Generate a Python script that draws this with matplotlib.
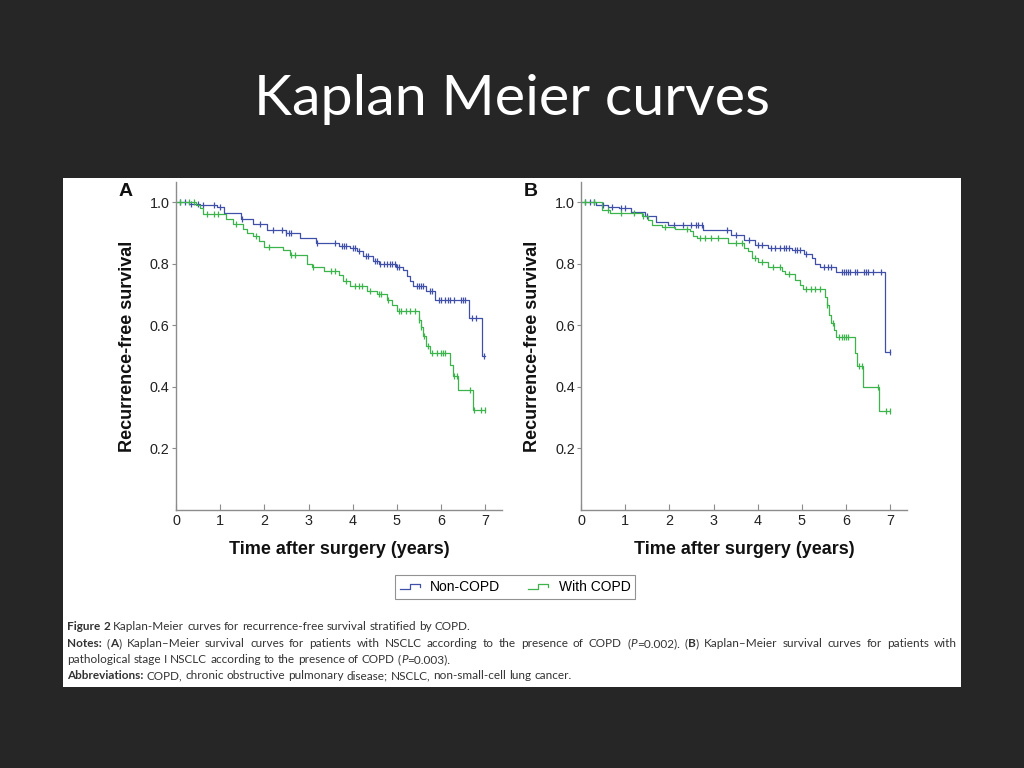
import numpy as np
import matplotlib
matplotlib.use('Agg')
import matplotlib.pyplot as plt
from matplotlib.lines import Line2D
from matplotlib.patches import Rectangle
from matplotlib.legend_handler import HandlerBase

# ---- data (step times in years, survival after each step) ----
a_non_times = [0.30, 0.55, 0.92, 1.09, 1.48, 1.75, 2.05, 2.50, 2.80, 3.18, 3.70, 3.94, 4.10, 4.24,
               4.46, 4.60, 4.99, 5.14, 5.22, 5.29, 5.37, 5.66, 5.86, 6.64, 6.92]
a_non_surv = [0.995, 0.99, 0.984, 0.965, 0.945, 0.93, 0.91, 0.898, 0.882, 0.868, 0.858, 0.85, 0.84,
              0.825, 0.81, 0.80, 0.79, 0.78, 0.76, 0.742, 0.726, 0.71, 0.683, 0.623, 0.50]
a_non_cens = [0.1, 0.2, 0.35, 0.5, 0.6, 0.85, 1.0, 1.5, 1.9, 2.2, 2.4, 2.5, 2.55, 2.6, 3.2, 3.6,
              3.75, 3.8, 3.85, 4.0, 4.05, 4.15, 4.3, 4.35, 4.5, 4.55, 4.62, 4.7, 4.78, 4.85, 4.9,
              4.95, 5.0, 5.05, 5.45, 5.5, 5.55, 5.6, 5.75, 5.8, 5.95, 6.0, 6.1, 6.15, 6.2, 6.3,
              6.45, 6.5, 6.55, 6.7, 6.8, 6.98]

a_copd_times = [0.45, 0.55, 0.62, 1.14, 1.30, 1.52, 1.60, 1.75, 1.87, 2.00, 2.43, 2.58, 2.96, 3.07,
                3.34, 3.70, 3.78, 3.94, 4.32, 4.55, 4.77, 4.88, 5.00, 5.49, 5.54, 5.60, 5.67, 5.74,
                6.20, 6.27, 6.38, 6.72]
a_copd_surv = [0.99, 0.98, 0.96, 0.946, 0.93, 0.914, 0.90, 0.89, 0.875, 0.855, 0.844, 0.828, 0.80,
               0.79, 0.776, 0.763, 0.745, 0.727, 0.71, 0.70, 0.683, 0.665, 0.645, 0.617, 0.595,
               0.565, 0.532, 0.51, 0.47, 0.435, 0.39, 0.325]
a_copd_cens = [0.1, 0.3, 0.4, 0.7, 0.85, 0.95, 1.35, 1.8, 2.1, 2.6, 2.7, 3.1, 3.5, 3.6, 3.85, 4.05,
               4.15, 4.2, 4.4, 4.6, 4.65, 4.8, 5.05, 5.1, 5.2, 5.3, 5.4, 5.5, 5.55, 5.62, 5.7, 5.8,
               5.9, 6.0, 6.05, 6.1, 6.3, 6.35, 6.65, 6.75, 6.9, 7.0]

b_non_times = [0.35, 0.60, 0.85, 1.14, 1.44, 1.70, 1.98, 2.77, 3.40, 3.70, 3.94, 4.24, 4.77, 5.05,
               5.22, 5.30, 5.41, 5.78, 6.89]
b_non_surv = [0.99, 0.985, 0.98, 0.968, 0.954, 0.935, 0.925, 0.909, 0.892, 0.876, 0.862, 0.851,
              0.844, 0.83, 0.817, 0.80, 0.79, 0.772, 0.512]
b_non_cens = [0.1, 0.2, 0.3, 0.5, 0.7, 0.9, 1.0, 1.5, 2.1, 2.3, 2.5, 2.6, 2.65, 2.75, 3.3, 3.5, 3.8,
              4.0, 4.1, 4.3, 4.4, 4.5, 4.6, 4.65, 4.7, 4.85, 4.9, 4.95, 5.1, 5.5, 5.6, 5.65, 5.9,
              5.95, 6.0, 6.05, 6.1, 6.2, 6.25, 6.4, 6.45, 6.5, 6.6, 6.8, 7.0]

b_copd_times = [0.47, 0.65, 1.37, 1.52, 1.60, 1.83, 2.13, 2.47, 2.54, 2.62, 3.33, 3.70, 3.78, 3.86,
                4.01, 4.24, 4.54, 4.61, 4.84, 4.95, 5.03, 5.52, 5.56, 5.61, 5.67, 5.73, 5.78, 6.20,
                6.24, 6.39, 6.74]
b_copd_surv = [0.975, 0.965, 0.955, 0.94, 0.925, 0.92, 0.914, 0.905, 0.89, 0.882, 0.868, 0.85, 0.84,
               0.819, 0.806, 0.79, 0.776, 0.765, 0.747, 0.73, 0.718, 0.693, 0.666, 0.634, 0.607,
               0.586, 0.561, 0.511, 0.468, 0.40, 0.321]
b_copd_cens = [0.1, 0.3, 0.6, 0.9, 1.2, 1.4, 1.9, 2.4, 2.7, 2.8, 2.95, 3.1, 3.5, 3.65, 3.95, 4.1,
               4.35, 4.5, 4.7, 5.1, 5.2, 5.3, 5.4, 5.58, 5.7, 5.85, 5.9, 5.95, 6.0, 6.05, 6.3, 6.35,
               6.72, 6.9, 7.0]

end_time = 7.0
yticks = [0.2, 0.4, 0.6, 0.8, 1.0]
xticks = [0, 1, 2, 3, 4, 5, 6, 7]
group_names = ['Non-COPD', 'With COPD']

BLUE = '#4050a8'
GREEN = '#3cb44c'
BG = '#262626'
AXC = '#8c8c8c'


def km_steps(times, surv):
    t = np.concatenate([[0.0], times, [end_time]])
    s = np.concatenate([[1.0], surv, [surv[-1]]])
    return t, s


def draw_km(ax, times, surv, cens, color):
    t, s = km_steps(times, surv)
    ax.step(t, s, where='post', color=color, lw=0.9)
    # censor marks sit on the curve
    idx = np.searchsorted(times, cens, side='right')
    cs = np.concatenate([[1.0], surv])[idx]
    ax.plot(cens, cs, ls='none', marker='|', ms=5, mew=0.9, color=color)


class StepHandler(HandlerBase):
    def create_artists(self, legend, orig, xd, yd, w, h, fs, trans):
        xs = np.array([0, 0.45, 0.45, 0.9, 0.9]) * w - xd
        ys = np.array([0.25, 0.25, 0.75, 0.75, 0.45]) * h - yd
        ln = Line2D(xs, ys, color=orig.get_color(), lw=0.9, transform=trans)
        return [ln]


fig = plt.figure(figsize=(10.24, 7.68), dpi=100, facecolor=BG)
fig.patches.append(Rectangle((63 / 1024, 1 - 687 / 768), 898 / 1024, 509 / 768,
                             transform=fig.transFigure, facecolor='white', edgecolor='none', zorder=-10))

fig.text(0.5, 1 - 115 / 768, 'Kaplan Meier curves', color='white', fontsize=41.3,
         family='Lato', ha='center', va='baseline')

panels = [
    (176, 'A', [(a_non_times, a_non_surv, a_non_cens, BLUE), (a_copd_times, a_copd_surv, a_copd_cens, GREEN)]),
    (581, 'B', [(b_non_times, b_non_surv, b_non_cens, BLUE), (b_copd_times, b_copd_surv, b_copd_cens, GREEN)]),
]

for left_px, letter, curves in panels:
    ax = fig.add_axes([left_px / 1024, 1 - 510 / 768, 326 / 1024, 328 / 768])
    ax.set_facecolor('none')
    for times, surv, cens, col in curves:
        draw_km(ax, np.array(times), np.array(surv), cens, col)
    ax.set_xlim(0, 7.38)
    ax.set_ylim(0, 1.065)
    ax.set_xticks(xticks)
    ax.set_yticks(yticks)
    ax.set_yticklabels([f'{v:.1f}' for v in yticks])
    for sp in ['top', 'right']:
        ax.spines[sp].set_visible(False)
    for sp in ['left', 'bottom']:
        ax.spines[sp].set_color(AXC)
        ax.spines[sp].set_linewidth(1.0)
    ax.tick_params(axis='x', direction='in', length=4, color=AXC, pad=3,
                   labelsize=10.4, labelcolor='#222222')
    ax.tick_params(axis='y', direction='out', length=3, color=AXC, pad=1.5,
                   labelsize=10.4, labelcolor='#222222')
    for lbl in ax.get_xticklabels() + ax.get_yticklabels():
        lbl.set_family('Liberation Sans')
    ax.set_ylabel('Recurrence-free survival', fontsize=13, fontweight='bold',
                  family='Liberation Sans', color='#111111')
    ax.yaxis.set_label_coords(-0.123, 0.5)
    ax.set_xlabel('Time after surgery (years)', fontsize=13, fontweight='bold',
                  family='Liberation Sans', color='#111111')
    ax.xaxis.set_label_coords(0.5, -0.093)
    fig.text((left_px - 50.5) / 1024, 1 - 191 / 768, letter, fontsize=14, fontweight='bold',
             family='Liberation Sans', ha='center', va='center', color='#111111')

handles = [Line2D([], [], color=BLUE), Line2D([], [], color=GREEN)]
leg = fig.legend(handles, group_names, loc='center', bbox_to_anchor=(515 / 1024, 1 - 587 / 768),
                 ncol=2, frameon=True, fancybox=False, edgecolor='#777777',
                 prop={'family': 'Liberation Sans', 'size': 10},
                 handler_map={Line2D: StepHandler()}, handlelength=1.6, columnspacing=2.0,
                 borderpad=0.35, handletextpad=0.6)
leg.get_frame().set_linewidth(0.8)

# ---- caption, drawn word by word so bold/italic runs and justification work ----
renderer = fig.canvas.get_renderer()
W = fig.bbox.width
CAP_FONT = 'Lato'
CAP_SIZE = 8.5


def text_width(s, weight='normal', style='normal'):
    t = fig.text(0, 0, s, fontsize=CAP_SIZE, family=CAP_FONT, fontweight=weight, fontstyle=style)
    w = t.get_window_extent(renderer).width
    t.remove()
    return w


def draw_runs(x_px, y_px, runs, justify_to=None):
    items = []
    for text, weight, style in runs:
        parts = text.split(' ')
        for i, p in enumerate(parts):
            if i > 0:
                items.append(None)
            if p:
                items.append((p, weight, style))
    space = text_width('a a') - text_width('aa')
    widths = [space if it is None else text_width(*it) for it in items]
    extra = 0.0
    n_sp = items.count(None)
    if justify_to is not None and n_sp:
        extra = (justify_to - x_px - sum(widths)) / n_sp
    cur = x_px
    for it, w in zip(items, widths):
        if it is None:
            cur += w + extra
            continue
        fig.text(cur / W, 1 - y_px / 768, it[0], fontsize=CAP_SIZE, family=CAP_FONT,
                 fontweight=it[1], fontstyle=it[2], color='#333333', va='baseline', ha='left')
        cur += w


N, B, I = 'normal', 'bold', 'italic'
draw_runs(67, 630, [('Figure 2', B, N), (' Kaplan-Meier curves for recurrence-free survival stratified by COPD.', N, N)])
draw_runs(67, 647, [('Notes:', B, N), (' (', N, N), ('A', B, N),
                    (') Kaplan\u2013Meier survival curves for patients with NSCLC according to the presence of COPD (', N, N),
                    ('P', N, I), ('=0.002). (', N, N), ('B', B, N),
                    (') Kaplan\u2013Meier survival curves for patients with', N, N)], justify_to=957)
draw_runs(67, 663, [('pathological stage I NSCLC according to the presence of COPD (', N, N),
                    ('P', N, I), ('=0.003).', N, N)])
draw_runs(67, 679, [('Abbreviations:', B, N),
                    (' COPD, chronic obstructive pulmonary disease; NSCLC, non-small-cell lung cancer.', N, N)])

fig.savefig('out.png', dpi=100, facecolor=BG)
